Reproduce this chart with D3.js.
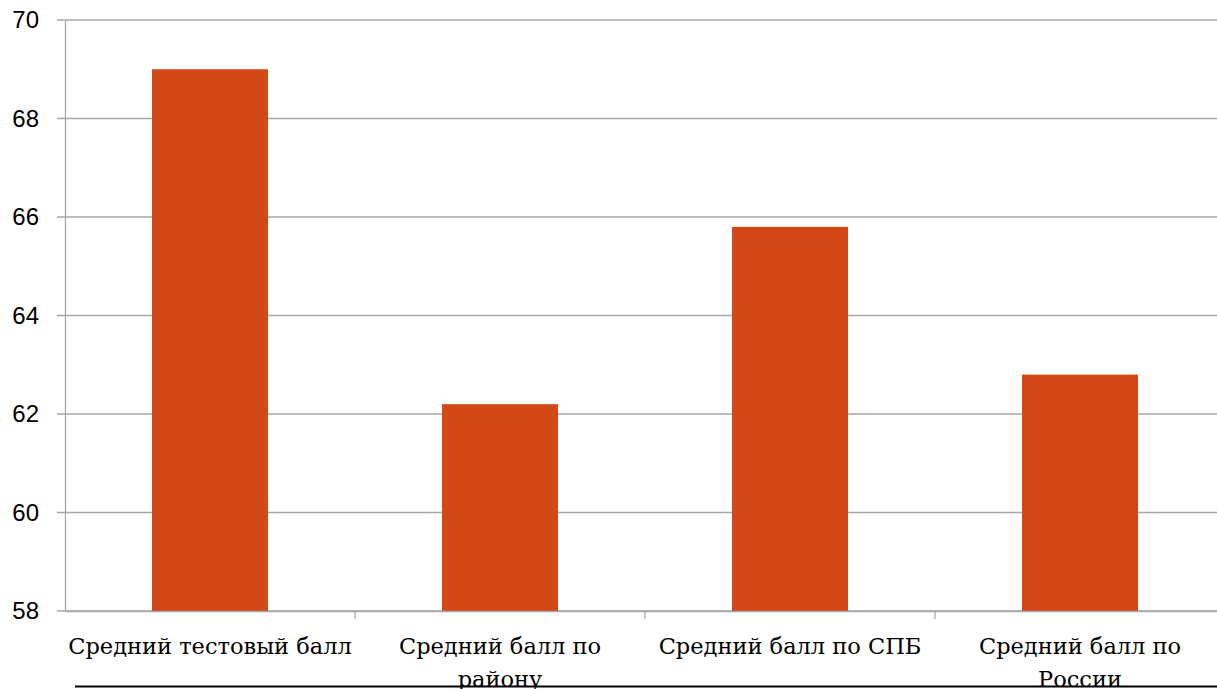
<!DOCTYPE html>
<html>
<head>
<meta charset="utf-8">
<script src="https://cdn.jsdelivr.net/npm/d3@7"></script>
<style>
  body { margin: 0; background: #fff; overflow: hidden; }
  .y-axis text { font-family: "Liberation Sans", Arial, sans-serif; font-size: 24px; fill: #000; }
  .x-axis text { font-family: "DejaVu Serif", serif; font-size: 22.5px; fill: #000; }
</style>
</head>
<body>
<div id="chart"></div>
<script>
// Categories and values
var categories = ["Средний тестовый балл", "Средний балл по району", "Средний балл по СПБ", "Средний балл по России"];
var scores = [69.0, 62.2, 65.8, 62.8];
var yTicks = [58, 60, 62, 64, 66, 68, 70];

var W = 1217, H = 689;
// plot runs past the right edge of the window, like the original
var margin = {top: 20, left: 65, bottom: 78},
    width = 1160,
    height = H - margin.top - margin.bottom;

var svg = d3.select("#chart")
    .append("svg")
        .attr("width", W)
        .attr("height", H)
    .append("g")
        .attr("transform", "translate(" + margin.left + "," + margin.top + ")");

var x = d3.scaleBand().domain(categories).range([0, width]).paddingInner(0.6).paddingOuter(0.3);
var xTicks = d3.scaleBand().domain(categories).range([0, width]);
var y = d3.scaleLinear().domain([58, 70]).range([height, 0]);

// horizontal grid lines (with small outward tick)
svg.append("g")
    .attr("class", "grid")
    .selectAll("line")
    .data(yTicks)
    .enter().append("line")
        .attr("x1", -8)
        .attr("x2", width)
        .attr("y1", function(d) { return y(d); })
        .attr("y2", function(d) { return y(d); })
        .attr("stroke", "#a6a6a6")
        .attr("stroke-width", 1.3);

// y axis
var yAxis = d3.axisLeft(y).tickValues(yTicks).tickSize(0).tickPadding(26);
var gy = svg.append("g").attr("class", "y-axis").call(yAxis);
gy.select(".domain").attr("stroke", "#a6a6a6").attr("stroke-width", 1.3);

// bars
svg.selectAll(".bar")
    .data(scores)
    .enter().append("rect")
        .attr("class", "bar")
        .attr("x", function(d, i) { return x(categories[i]); })
        .attr("width", x.bandwidth())
        .attr("y", function(d) { return y(d); })
        .attr("height", function(d) { return height - y(d); })
        .attr("fill", "#d34817");

// category ticks between bands
svg.append("g")
    .selectAll("line")
    .data(categories.slice(1))
    .enter().append("line")
        .attr("x1", function(d) { return xTicks(d); })
        .attr("x2", function(d) { return xTicks(d); })
        .attr("y1", height)
        .attr("y2", height + 8)
        .attr("stroke", "#a6a6a6")
        .attr("stroke-width", 1.3);

// x axis labels
var xAxis = d3.axisBottom(xTicks).tickSize(0).tickPadding(27);
var gx = svg.append("g")
    .attr("class", "x-axis")
    .attr("transform", "translate(0," + height + ")")
    .call(xAxis);
gx.select(".domain").attr("stroke", "#a6a6a6").attr("stroke-width", 1.3);
gx.selectAll("text").call(wrap, 289);

function wrap(text, w) {
    text.each(function() {
        var t = d3.select(this),
            words = t.text().split(/\s+/),
            line = [],
            lineNo = 0,
            yy = t.attr("y"),
            dy = parseFloat(t.attr("dy")),
            tspan = t.text(null).append("tspan").attr("x", 0).attr("y", yy).attr("dy", dy + "em");
        words.forEach(function(word) {
            line.push(word);
            tspan.text(line.join(" "));
            if (tspan.node().getComputedTextLength() > w && line.length > 1) {
                line.pop();
                tspan.text(line.join(" "));
                line = [word];
                tspan = t.append("tspan").attr("x", 0).attr("y", yy)
                    .attr("dy", (++lineNo * 1.47 + dy) + "em").text(word);
            }
        });
    });
}

// black rule at the bottom
d3.select("svg").append("line")
    .attr("x1", 75).attr("x2", W)
    .attr("y1", 686.5).attr("y2", 686.5)
    .attr("stroke", "#000").attr("stroke-width", 2);
</script>
</body>
</html>
